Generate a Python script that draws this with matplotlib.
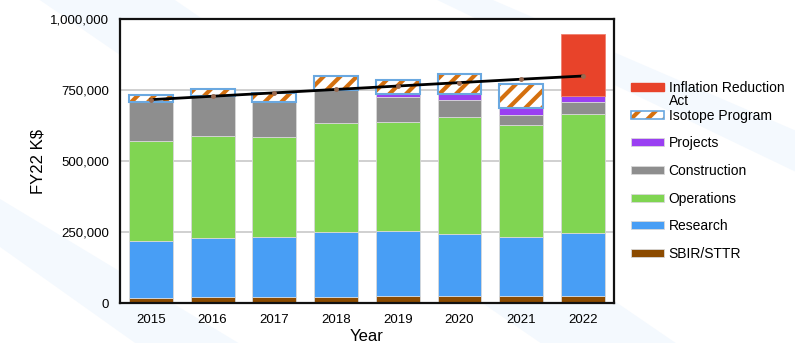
import numpy as np
import matplotlib.pyplot as plt
from matplotlib.patches import Patch, Polygon
from matplotlib.ticker import FuncFormatter

plt.rcParams['font.family'] = ['Liberation Sans', 'DejaVu Sans']
plt.rcParams['hatch.linewidth'] = 3.0

years = ['2015', '2016', '2017', '2018', '2019', '2020', '2021', '2022']

# funding by category, FY22 K$
sbir = [17600, 20000, 21000, 22300, 23500, 23500, 23500, 25800]
research = [201900, 210000, 210200, 226500, 231200, 218300, 207700, 219500]
operations = [352100, 359200, 354500, 383800, 383800, 414300, 395600, 420200]
construction = [135000, 138500, 123300, 118600, 85700, 58700, 36300, 43500]
projects = [0, 0, 0, 0, 11700, 19900, 22300, 19900]
isotope = [27000, 25800, 30400, 49300, 50500, 70500, 84600, 0]
ira = [0, 0, 0, 0, 0, 0, 0, 218300]
trend = [716000, 728000, 740000, 752000, 764000, 776000, 788000, 799300]

colors = {
    'ira': '#e8432a',
    'isotope_hatch': '#d4700f',
    'isotope_edge': '#6aa8e0',
    'projects': '#9a3ff2',
    'construction': '#8e8e8e',
    'operations': '#80d552',
    'research': '#489ef5',
    'sbir': '#8c4b00',
}

fig = plt.figure(figsize=(7.95, 3.43), dpi=100)

# faint diagonal background bands, kept behind the axes
for pts in ([(0.05, 1.0), (0.22, 1.0), (0.85, 0.0), (0.68, 0.0)],
            [(0.55, 1.0), (0.62, 1.0), (1.0, 0.62), (1.0, 0.5)],
            [(0.0, 0.42), (0.0, 0.28), (0.17, 0.0), (0.3, 0.0)]):
    fig.patches.append(Polygon(pts, closed=True, transform=fig.transFigure,
                               facecolor='#f4f9fe', edgecolor='none', zorder=-5))

ax = fig.add_axes([0.151, 0.1166, 0.621, 0.828])
ax.set_facecolor('white')
x = np.arange(len(years))
w = 0.71
edge = '#d8d8d8'

bottom = np.zeros(len(years))
stack = [
    (sbir, 'SBIR/STTR', colors['sbir']),
    (research, 'Research', colors['research']),
    (operations, 'Operations', colors['operations']),
    (construction, 'Construction', colors['construction']),
    (projects, 'Projects', colors['projects']),
]
handles = {}
for vals, name, c in stack:
    vals = np.array(vals, dtype=float)
    ax.bar(x, vals, w, bottom=bottom, color=c, edgecolor=edge, linewidth=0.6, zorder=2)
    handles[name] = Patch(facecolor=c, edgecolor=edge, linewidth=0.6)
    bottom += vals

iso = np.array(isotope, dtype=float)
m = iso > 0
ax.bar(x[m], iso[m], w, bottom=bottom[m], facecolor='white',
       edgecolor=colors['isotope_hatch'], hatch='//', linewidth=0, zorder=2)
ax.bar(x[m], iso[m], w, bottom=bottom[m], facecolor='none',
       edgecolor=colors['isotope_edge'], linewidth=1.5, zorder=3)
bottom += iso

ira_v = np.array(ira, dtype=float)
m = ira_v > 0
ax.bar(x[m], ira_v[m], w, bottom=bottom[m], color=colors['ira'],
       edgecolor='#f08070', linewidth=0.6, zorder=2)

ax.plot(x, trend, color='black', linewidth=2, zorder=4)
ax.plot(x, trend, linestyle='none', marker='o', markersize=2.5,
        color='#9a6a50', zorder=5)

ax.set_xlim(-0.5, 7.5)
ax.set_ylim(0, 1000000)
ax.set_yticks([0, 250000, 500000, 750000, 1000000])
ax.yaxis.set_major_formatter(FuncFormatter(lambda v, p: f'{int(v):,}'))
ax.set_xticks(x)
ax.set_xticklabels(years)
ax.tick_params(length=0, labelsize=9.5, pad=8)
ax.yaxis.grid(True, color='#c8c8c8', linewidth=1.2, zorder=0)
ax.set_axisbelow(True)
for s in ax.spines.values():
    s.set_linewidth(1.6)
    s.set_color('#111111')
ax.set_ylabel('FY22 K$', fontsize=12, labelpad=3)
ax.set_xlabel('Year', fontsize=12, labelpad=2)

iso_handle = (Patch(facecolor='white', edgecolor=colors['isotope_hatch'], hatch='//', linewidth=0),
              Patch(facecolor='none', edgecolor=colors['isotope_edge'], linewidth=1.2))
leg_handles = [Patch(facecolor=colors['ira'], edgecolor=colors['ira']), iso_handle,
               handles['Projects'], handles['Construction'], handles['Operations'],
               handles['Research'], handles['SBIR/STTR']]
leg_labels = ['Inflation Reduction', 'Isotope Program', 'Projects', 'Construction',
              'Operations', 'Research', 'SBIR/STTR']
leg = fig.legend(leg_handles, leg_labels, loc='upper left', bbox_to_anchor=(0.778, 0.8),
                 frameon=False, fontsize=10, handlelength=2.4, handleheight=0.5,
                 labelspacing=0.98, handletextpad=0.3)

fig.canvas.draw()
first = leg.get_texts()[0]
bb = first.get_window_extent().transformed(fig.transFigure.inverted())
fig.text(bb.x0, bb.y0 + 0.002, 'Act', fontsize=10, va='top', ha='left')

fig.savefig('out.png', dpi=100)
